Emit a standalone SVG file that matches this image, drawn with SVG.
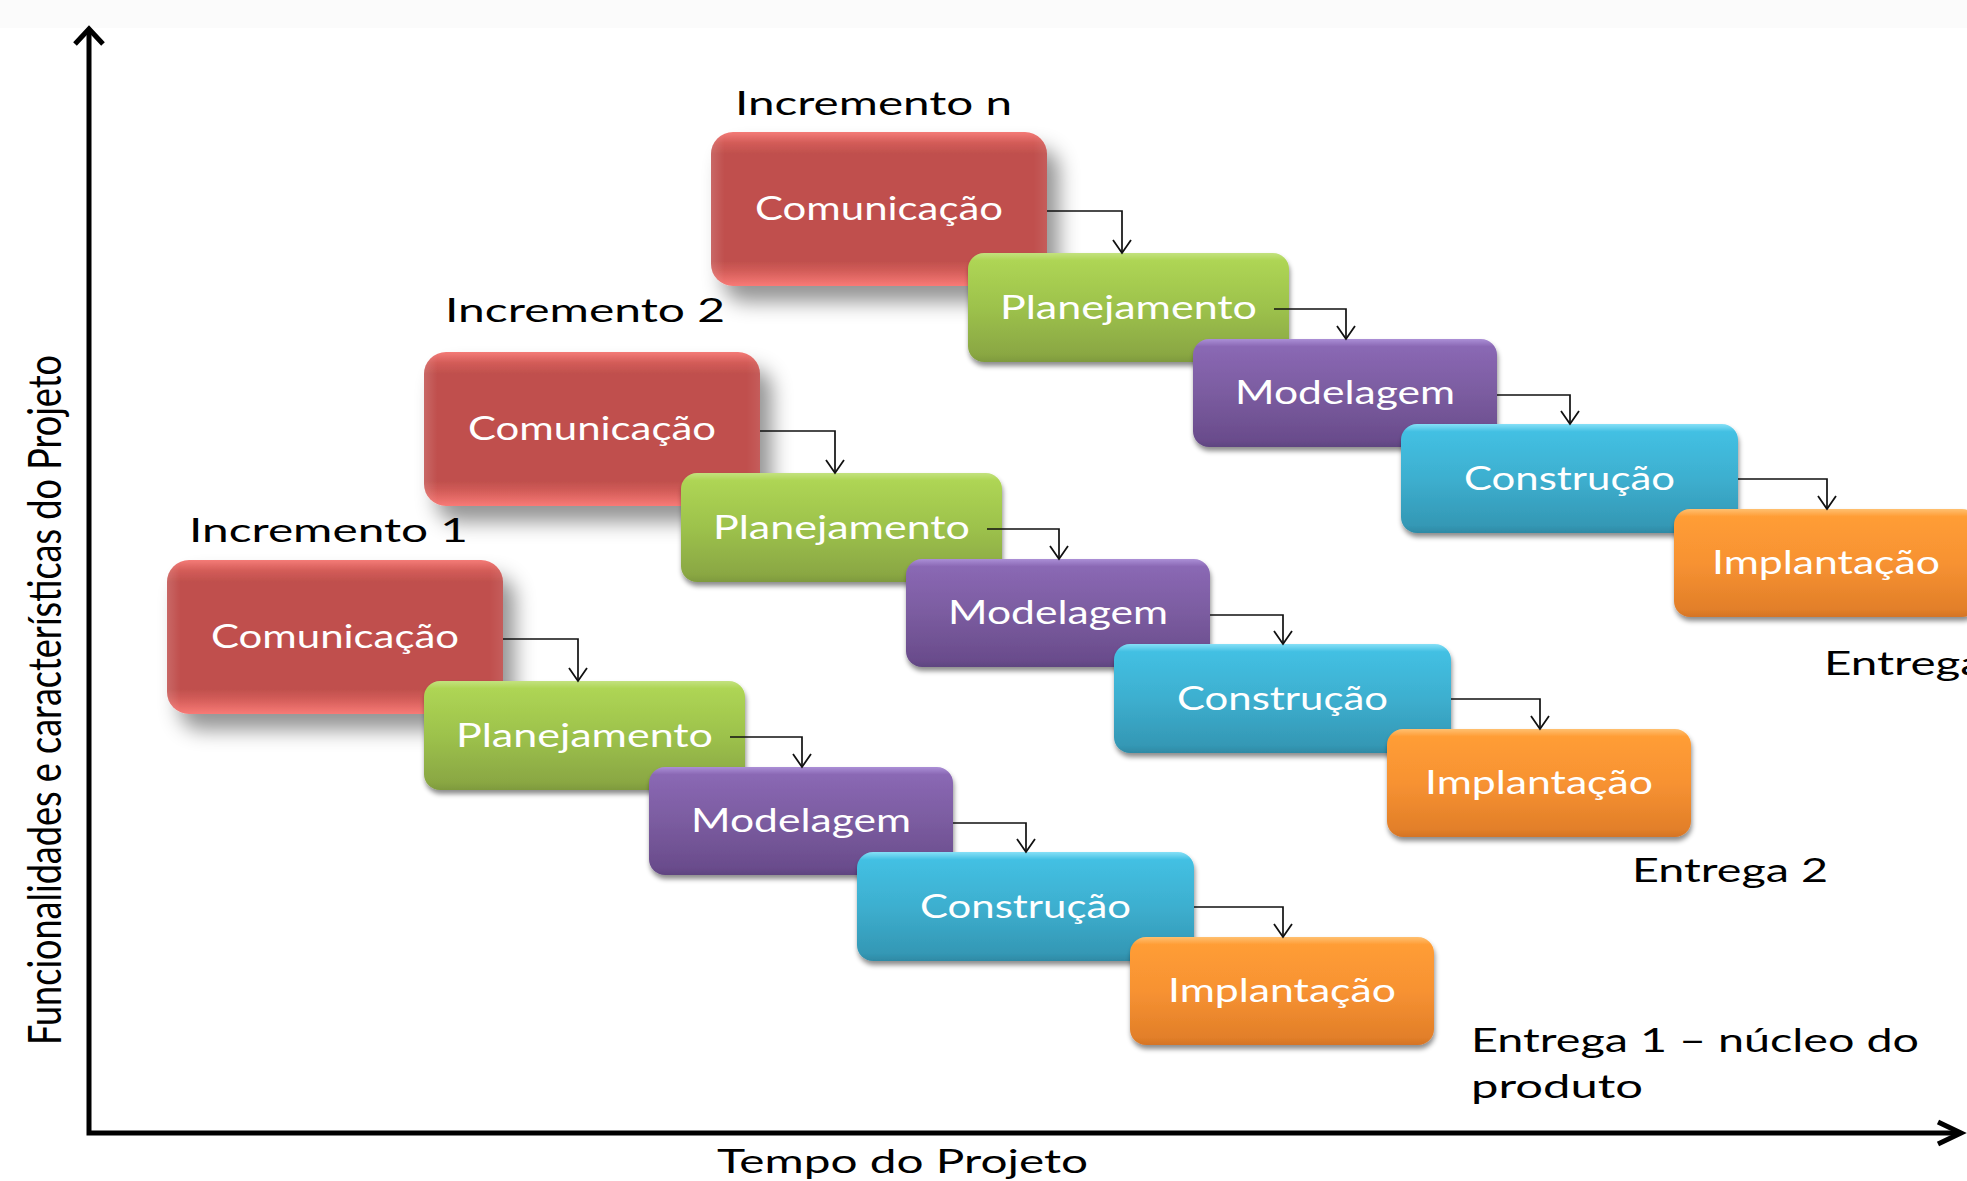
<svg xmlns="http://www.w3.org/2000/svg" width="1967" height="1181" viewBox="0 0 1967 1181">
  <style>
    .lbl { font-family: Lato, "Liberation Sans", sans-serif; font-size: 32px; fill: #000; }
    .nt { font-family: Lato, "Liberation Sans", sans-serif; font-size: 32px; fill: #fff; text-anchor: middle; }
    .axis { fill: none; stroke: #000; stroke-width: 5; stroke-linejoin: miter; stroke-linecap: butt; }
    .conn { fill: none; stroke: #111; stroke-width: 1.7; marker-end: url(#arr); }
    .com { fill: url(#gRed); filter: url(#shBig); }
    .pla { fill: url(#gGreen); filter: url(#shSm); }
    .mod { fill: url(#gPurple); filter: url(#shSm); }
    .con { fill: url(#gCyan); filter: url(#shSm); }
    .imp { fill: url(#gOrange); filter: url(#shSm); }
    .rim { fill: url(#gRim); }
  </style>
  <defs>
    <linearGradient id="gRed" x1="0" y1="0" x2="0" y2="1">
      <stop offset="0" stop-color="#F47B77"/>
      <stop offset="0.07" stop-color="#D35C58"/>
      <stop offset="0.14" stop-color="#C0504D"/>
      <stop offset="0.84" stop-color="#C0504D"/>
      <stop offset="0.9" stop-color="#D25C58"/>
      <stop offset="1" stop-color="#F87A76"/>
    </linearGradient>
    <linearGradient id="gRim" x1="0" y1="0" x2="1" y2="0">
      <stop offset="0" stop-color="#fff" stop-opacity="0.14"/>
      <stop offset="0.04" stop-color="#fff" stop-opacity="0"/>
      <stop offset="0.96" stop-color="#fff" stop-opacity="0"/>
      <stop offset="1" stop-color="#fff" stop-opacity="0.08"/>
    </linearGradient>
    <linearGradient id="gGreen" x1="0" y1="0" x2="0" y2="1">
      <stop offset="0" stop-color="#C3E27F"/>
      <stop offset="0.07" stop-color="#AED554"/>
      <stop offset="0.5" stop-color="#9DC24C"/>
      <stop offset="0.93" stop-color="#8AA743"/>
      <stop offset="1" stop-color="#7E9A3D"/>
    </linearGradient>
    <linearGradient id="gPurple" x1="0" y1="0" x2="0" y2="1">
      <stop offset="0" stop-color="#AB8FD6"/>
      <stop offset="0.07" stop-color="#8A68B4"/>
      <stop offset="0.5" stop-color="#7B5CA0"/>
      <stop offset="0.93" stop-color="#6A4C8C"/>
      <stop offset="1" stop-color="#5F4480"/>
    </linearGradient>
    <linearGradient id="gCyan" x1="0" y1="0" x2="0" y2="1">
      <stop offset="0" stop-color="#86E0F7"/>
      <stop offset="0.07" stop-color="#43C0E3"/>
      <stop offset="0.5" stop-color="#3DAFCF"/>
      <stop offset="0.93" stop-color="#3498B5"/>
      <stop offset="1" stop-color="#2E89A4"/>
    </linearGradient>
    <linearGradient id="gOrange" x1="0" y1="0" x2="0" y2="1">
      <stop offset="0" stop-color="#FFC070"/>
      <stop offset="0.07" stop-color="#FF9D36"/>
      <stop offset="0.5" stop-color="#F79232"/>
      <stop offset="0.93" stop-color="#E27F29"/>
      <stop offset="1" stop-color="#D47426"/>
    </linearGradient>
    <filter id="shBig" x="-20%" y="-20%" width="150%" height="170%">
      <feDropShadow dx="12" dy="16" stdDeviation="10" flood-color="#000" flood-opacity="0.42"/>
    </filter>
    <filter id="shSm" x="-10%" y="-10%" width="120%" height="140%">
      <feDropShadow dx="1" dy="4" stdDeviation="2.5" flood-color="#000" flood-opacity="0.45"/>
    </filter>
    <marker id="arr" markerUnits="userSpaceOnUse" viewBox="-15 -12 17 24" markerWidth="17" markerHeight="24" refX="0" refY="0" orient="auto">
      <path d="M-13,-9 L0,0 L-13,9" fill="none" stroke="#111" stroke-width="1.8"/>
    </marker>
  </defs>

  <rect x="0" y="0" width="1967" height="1181" fill="#fff"/>
  <rect x="0" y="0" width="1967" height="28" fill="#fbfbfb"/>

  <!-- axes -->
  <g id="axes">
    <path class="axis" d="M89,31 V1133 H1958"/>
    <path class="axis" d="M75,44 L89,29 L103,44"/>
    <path class="axis" d="M1938,1122 L1961,1133 L1938,1144"/>
    <text class="lbl" transform="translate(61,700) scale(1.45,1) rotate(-90)" font-size="33" text-anchor="middle" textLength="690" lengthAdjust="spacingAndGlyphs">Funcionalidades e características do Projeto</text>
    <text class="lbl" x="717" y="1173" textLength="371" lengthAdjust="spacingAndGlyphs">Tempo do Projeto</text>
  </g>

  <!-- increment n -->
  <g id="incremento-n" transform="translate(711,132)">
    <g id="incn-comunicacao"><rect class="com" x="0" y="0" width="336" height="154" rx="22"/><rect class="rim" x="0" y="0" width="336" height="154" rx="22"/><text class="nt" x="168" y="88" textLength="248" lengthAdjust="spacingAndGlyphs">Comunicação</text></g>
    <g id="incn-planejamento"><rect class="pla" x="257" y="121" width="321" height="109" rx="16"/><text class="nt" x="417.5" y="187" textLength="257" lengthAdjust="spacingAndGlyphs">Planejamento</text></g>
    <g id="incn-modelagem"><rect class="mod" x="482" y="207" width="304" height="108" rx="16"/><text class="nt" x="634" y="272" textLength="220" lengthAdjust="spacingAndGlyphs">Modelagem</text></g>
    <g id="incn-construcao"><rect class="con" x="690" y="292" width="337" height="109" rx="16"/><text class="nt" x="858.5" y="358" textLength="211" lengthAdjust="spacingAndGlyphs">Construção</text></g>
    <g id="incn-implantacao"><rect class="imp" x="963" y="377" width="304" height="108" rx="16"/><text class="nt" x="1115" y="442" textLength="228" lengthAdjust="spacingAndGlyphs">Implantação</text></g>
  </g>

  <!-- increment 2 -->
  <g id="incremento-2" transform="translate(424,352)">
    <g id="inc2-comunicacao"><rect class="com" x="0" y="0" width="336" height="154" rx="22"/><rect class="rim" x="0" y="0" width="336" height="154" rx="22"/><text class="nt" x="168" y="88" textLength="248" lengthAdjust="spacingAndGlyphs">Comunicação</text></g>
    <g id="inc2-planejamento"><rect class="pla" x="257" y="121" width="321" height="109" rx="16"/><text class="nt" x="417.5" y="187" textLength="257" lengthAdjust="spacingAndGlyphs">Planejamento</text></g>
    <g id="inc2-modelagem"><rect class="mod" x="482" y="207" width="304" height="108" rx="16"/><text class="nt" x="634" y="272" textLength="220" lengthAdjust="spacingAndGlyphs">Modelagem</text></g>
    <g id="inc2-construcao"><rect class="con" x="690" y="292" width="337" height="109" rx="16"/><text class="nt" x="858.5" y="358" textLength="211" lengthAdjust="spacingAndGlyphs">Construção</text></g>
    <g id="inc2-implantacao"><rect class="imp" x="963" y="377" width="304" height="108" rx="16"/><text class="nt" x="1115" y="442" textLength="228" lengthAdjust="spacingAndGlyphs">Implantação</text></g>
  </g>

  <!-- increment 1 -->
  <g id="incremento-1" transform="translate(167,560)">
    <g id="inc1-comunicacao"><rect class="com" x="0" y="0" width="336" height="154" rx="22"/><rect class="rim" x="0" y="0" width="336" height="154" rx="22"/><text class="nt" x="168" y="88" textLength="248" lengthAdjust="spacingAndGlyphs">Comunicação</text></g>
    <g id="inc1-planejamento"><rect class="pla" x="257" y="121" width="321" height="109" rx="16"/><text class="nt" x="417.5" y="187" textLength="257" lengthAdjust="spacingAndGlyphs">Planejamento</text></g>
    <g id="inc1-modelagem"><rect class="mod" x="482" y="207" width="304" height="108" rx="16"/><text class="nt" x="634" y="272" textLength="220" lengthAdjust="spacingAndGlyphs">Modelagem</text></g>
    <g id="inc1-construcao"><rect class="con" x="690" y="292" width="337" height="109" rx="16"/><text class="nt" x="858.5" y="358" textLength="211" lengthAdjust="spacingAndGlyphs">Construção</text></g>
    <g id="inc1-implantacao"><rect class="imp" x="963" y="377" width="304" height="108" rx="16"/><text class="nt" x="1115" y="442" textLength="228" lengthAdjust="spacingAndGlyphs">Implantação</text></g>
  </g>

  <!-- phase-to-phase connectors -->
  <g id="connectors">
    <path class="conn" d="M503,639 H578 V681"/>
    <path class="conn" d="M730,737 H802 V767"/>
    <path class="conn" d="M953,823 H1026 V852"/>
    <path class="conn" d="M1194,907 H1283 V937"/>
    <path class="conn" d="M760,431 H835 V473"/>
    <path class="conn" d="M987,529 H1059 V559"/>
    <path class="conn" d="M1210,615 H1283 V644"/>
    <path class="conn" d="M1451,699 H1540 V729"/>
    <path class="conn" d="M1047,211 H1122 V253"/>
    <path class="conn" d="M1274,309 H1346 V339"/>
    <path class="conn" d="M1497,395 H1570 V424"/>
    <path class="conn" d="M1738,479 H1827 V509"/>
  </g>

  <!-- increment and delivery labels -->
  <g id="labels">
    <text class="lbl" x="735" y="115" textLength="277" lengthAdjust="spacingAndGlyphs">Incremento n</text>
    <text class="lbl" x="445" y="322" textLength="280" lengthAdjust="spacingAndGlyphs">Incremento 2</text>
    <text class="lbl" x="189" y="542" textLength="279" lengthAdjust="spacingAndGlyphs">Incremento 1</text>
    <text class="lbl" x="1824" y="675" textLength="160" lengthAdjust="spacingAndGlyphs">Entrega</text>
    <text class="lbl" x="1632" y="882" textLength="196" lengthAdjust="spacingAndGlyphs">Entrega 2</text>
    <text class="lbl" x="1471" y="1052" textLength="448" lengthAdjust="spacingAndGlyphs">Entrega 1 – núcleo do</text>
    <text class="lbl" x="1471" y="1098" textLength="172" lengthAdjust="spacingAndGlyphs">produto</text>
  </g>
</svg>
